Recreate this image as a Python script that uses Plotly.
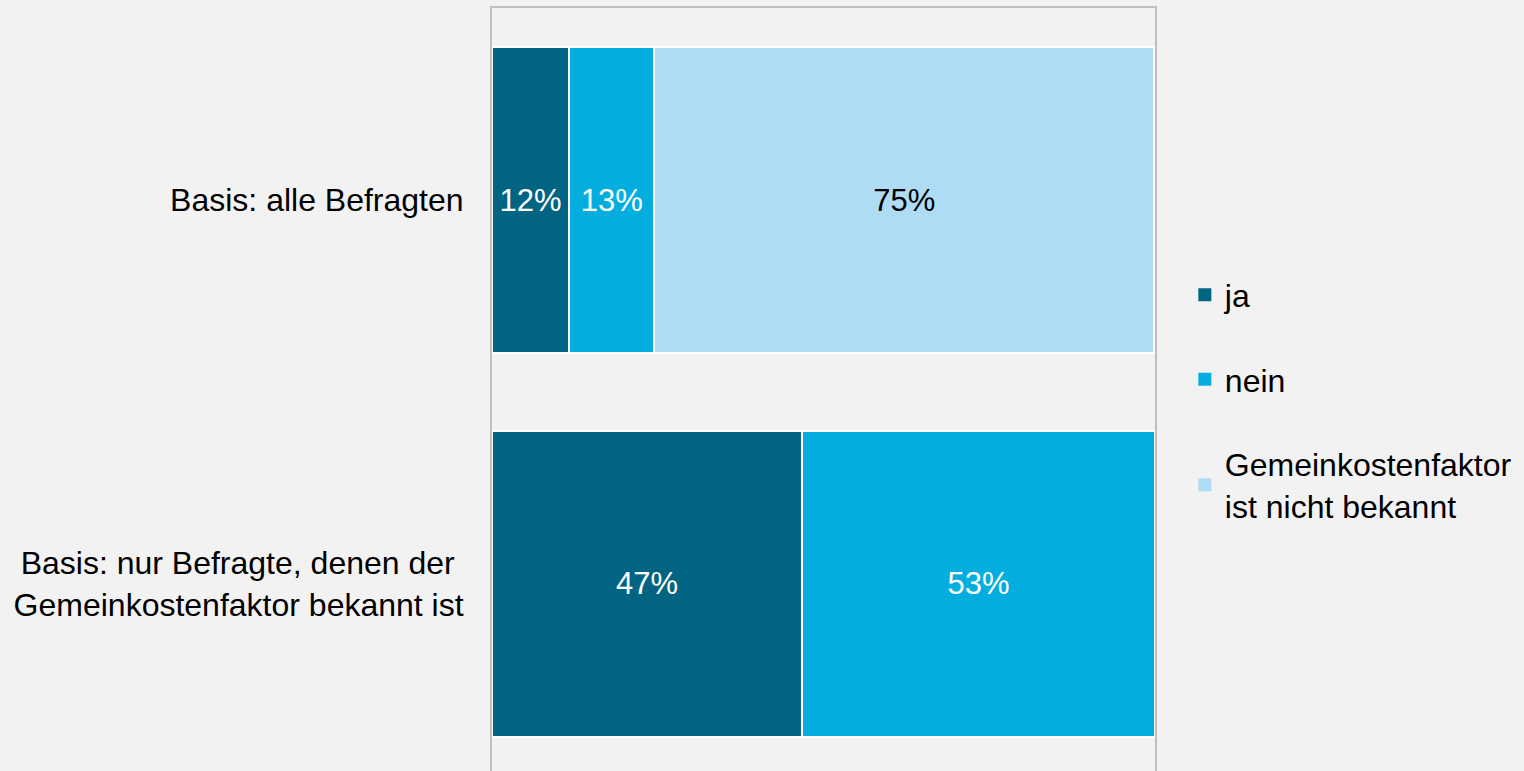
import plotly.graph_objects as go

categories = ["Basis: alle Befragten",
              "Basis: nur Befragte, denen der\u00a0<br>Gemeinkostenfaktor bekannt ist"]
series_names = ["ja", "nein", "Gemeinkostenfaktor<br>ist nicht bekannt"]
ja = [11.6, 46.8]
nein = [12.9, 53.2]
unbekannt = [75.4, None]
colors = ["#006482", "#03AEDF", "#AEDCF5"]
text_colors = ["white", "white", "black"]

FONT = "Liberation Sans, Arial, sans-serif"
FS = 32

fig = go.Figure()
for name, vals, col, tcol in zip(series_names, [ja, nein, unbekannt], colors, text_colors):
    fig.add_trace(go.Bar(
        y=categories, x=vals, name=name, orientation="h",
        marker=dict(color=col, line=dict(color="white", width=2)),
        text=[f"{round(v)}%" if v is not None else "" for v in vals],
        textposition="inside", insidetextanchor="middle",
        textfont=dict(color=tcol, size=31, family=FONT),
        width=0.795, legendgroup=name, showlegend=False, hoverinfo="skip",
    ))
    # legend entry (square swatch)
    fig.add_trace(go.Scatter(
        x=[None], y=[None], mode="markers", name=name, legendgroup=name,
        marker=dict(symbol="square", size=13, color=col), hoverinfo="skip",
    ))

fig.update_layout(
    barmode="stack",
    width=1524, height=771,
    margin=dict(l=492, r=369, t=8, b=0),
    paper_bgcolor="#f2f2f2", plot_bgcolor="#f2f2f2",
    font=dict(family=FONT, size=FS, color="black"),
    uniformtext=dict(minsize=31, mode="show"),
    legend=dict(x=1.045, y=0.66, xanchor="left", yanchor="top",
                font=dict(size=FS, color="black"),
                tracegroupgap=40, traceorder="grouped",
                bgcolor="rgba(0,0,0,0)", itemclick=False),
    showlegend=True,
)
fig.update_xaxes(range=[0, 100], showticklabels=False, showgrid=False,
                 zeroline=False, showline=True, mirror=False, side="top",
                 linecolor="#c0c0c0", linewidth=2, ticks="", layer="below traces")
fig.update_yaxes(categoryorder="array", categoryarray=categories,
                 range=[1.487, -0.5], showgrid=False, zeroline=False,
                 ticks="", ticklabelstandoff=20, showline=True, mirror=True,
                 linecolor="#c0c0c0", linewidth=2, layer="below traces")

fig.write_html("out.html", config={"displayModeBar": False},
               post_script="document.body.style.margin='0';document.body.style.background='#f2f2f2';")
